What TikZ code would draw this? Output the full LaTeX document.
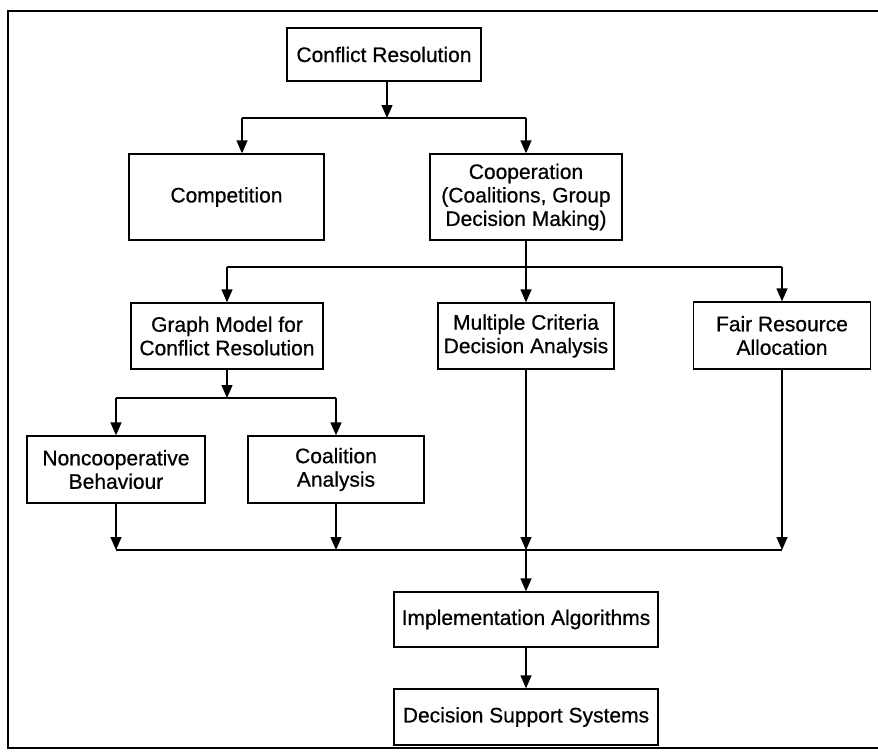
\documentclass[tikz,border=0pt]{standalone}
\usepackage{fontspec}
\setmainfont{Liberation Sans}
\newfontfamily\heavyfont[FakeBold=0.6]{Liberation Sans}
\usetikzlibrary{arrows.meta}
\begin{document}
\begin{tikzpicture}[x=1pt,y=-1pt,
  box/.style={draw, line width=1.3pt, align=center, inner sep=0pt,
    font=\heavyfont\fontsize{21}{23.5}\selectfont},
  arr/.style={line width=1.3pt, -{Triangle[length=13pt,width=11pt]}},
  ln/.style={line width=1.3pt}]
\useasboundingbox (0,0) rectangle (878,755);
% frame
\draw[line width=1.3pt] (878,11) -- (8,11) -- (8,748) -- (878,748);
% nodes
\node[box, minimum width=194pt, minimum height=53pt] (cr) at (384,54.5) {Conflict Resolution};
\node[box, minimum width=195pt, minimum height=86pt] (comp) at (226.5,197) {Competition};
\node[box, minimum width=192pt, minimum height=86pt] (coop) at (526,197) {Cooperation\\(Coalitions, Group\\Decision Making)};
\node[box, minimum width=192pt, minimum height=66pt] (gm) at (227,336) {Graph Model for\\Conflict Resolution};
\node[box, minimum width=176pt, minimum height=66pt] (mc) at (526,336) {Multiple Criteria\\Decision Analysis};
\node[box, minimum width=177pt, minimum height=67pt] (fr) at (782,335.5) {Fair Resource\\Allocation};
\node[box, minimum width=178pt, minimum height=67pt] (nc) at (116,469.5) {Noncooperative\\Behaviour};
\node[box, minimum width=176pt, minimum height=67pt] (ca) at (336,469.5) {Coalition\\Analysis};
\node[box, minimum width=264pt, minimum height=55pt] (ia) at (526,619.5) {Implementation Algorithms};
\node[box, minimum width=264pt, minimum height=56pt] (ds) at (526,717) {Decision Support Systems};
% junction coordinates
\coordinate (h1) at (387,118);
\coordinate (a1) at (242,118);
\coordinate (h2) at (527,267);
\coordinate (h3) at (227,398);
\coordinate (h4) at (527,550);
% level 1
\draw[arr] (cr.south -| h1) -- (h1);
\draw[ln] (a1) -- (coop.north |- a1);
\draw[arr] (a1) -- (a1 |- comp.north);
\draw[arr] (coop.north |- a1) -- (coop.north);
% level 2
\draw[ln] (coop.south) -- (coop.south |- h2);
\draw[ln] (gm.north |- h2) -- (fr.north |- h2);
\draw[arr] (gm.north |- h2) -- (gm.north);
\draw[arr] (mc.north |- h2) -- (mc.north);
\draw[arr] (fr.north |- h2) -- (fr.north);
% level 3
\draw[arr] (gm.south) -- (gm.south |- h3);
\draw[ln] (nc.north |- h3) -- (ca.north |- h3);
\draw[arr] (nc.north |- h3) -- (nc.north);
\draw[arr] (ca.north |- h3) -- (ca.north);
% merge
\draw[ln] (nc.south |- h4) -- (fr.south |- h4);
\draw[arr] (nc.south) -- (nc.south |- h4);
\draw[arr] (ca.south) -- (ca.south |- h4);
\draw[arr] (mc.south) -- (mc.south |- h4);
\draw[arr] (fr.south) -- (fr.south |- h4);
\draw[arr] (mc.south |- h4) -- (ia.north);
\draw[arr] (ia.south) -- (ds.north);
\end{tikzpicture}
\end{document}
